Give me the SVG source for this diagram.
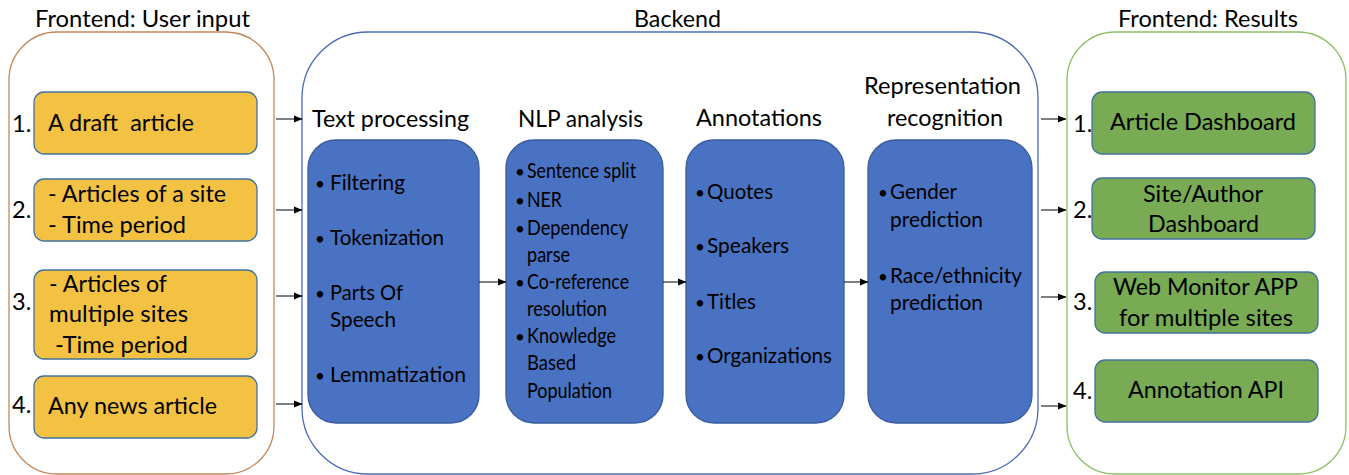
<svg xmlns="http://www.w3.org/2000/svg" width="1349" height="475" viewBox="0 0 1349 475">
<style>
text{font-family:Lato,"Liberation Sans",sans-serif;font-size:23.5px;fill:#000}
.it{font-size:21px}
.bl{font-size:17px}
.yel{fill:#F4C243;stroke:#41719C;stroke-width:1.3}
.grn{fill:#79AB54;stroke:#41719C;stroke-width:1.3}
.blu{fill:#4A72C2;stroke:#3A5C9E;stroke-width:1.3}
.cn{fill:none;stroke:#000;stroke-width:1;marker-end:url(#ah)}
</style>
<defs>
<marker id="ah" markerWidth="9" markerHeight="9" refX="8" refY="4.5" orient="auto" markerUnits="userSpaceOnUse">
<path d="M0,1 L8.5,4.5 L0,8 Z" fill="#000"/>
</marker>
</defs>
<rect width="1349" height="475" fill="#fff"/>

<g id="frontend-input">
<text x="35" y="27" textLength="215" lengthAdjust="spacingAndGlyphs">Frontend: User input</text>
<rect x="9" y="32" width="265" height="442" rx="48" ry="48" fill="none" stroke="#C4875A" stroke-width="1.3"/>
<g id="in1"><text x="12" y="132">1.</text><rect class="yel" x="34" y="92" width="223" height="62" rx="10"/><text x="48" y="131" xml:space="preserve" textLength="146" lengthAdjust="spacingAndGlyphs">A draft  article</text></g>
<g id="in2"><text x="12" y="218">2.</text><rect class="yel" x="34" y="179" width="223" height="62" rx="10"/><text x="48" y="202" textLength="178" lengthAdjust="spacingAndGlyphs">- Articles of a site</text><text x="48" y="233" textLength="138" lengthAdjust="spacingAndGlyphs">- Time period</text></g>
<g id="in3"><text x="12" y="310">3.</text><rect class="yel" x="34" y="270" width="223" height="89" rx="10"/><text x="49" y="292" textLength="118" lengthAdjust="spacingAndGlyphs">- Articles of</text><text x="49" y="322" textLength="139" lengthAdjust="spacingAndGlyphs">multiple sites</text><text x="55" y="353" textLength="133" lengthAdjust="spacingAndGlyphs">-Time period</text></g>
<g id="in4"><text x="12" y="413">4.</text><rect class="yel" x="34" y="376" width="223" height="62" rx="10"/><text x="48" y="414" textLength="169" lengthAdjust="spacingAndGlyphs">Any news article</text></g>
</g>

<g id="backend">
<text x="634" y="27" textLength="87" lengthAdjust="spacingAndGlyphs">Backend</text>
<rect x="302" y="32" width="736" height="442" rx="66" ry="66" fill="none" stroke="#4A6CB8" stroke-width="1.3"/>
</g>

<g id="text-processing">
<text x="312" y="127" textLength="157" lengthAdjust="spacingAndGlyphs">Text processing</text>
<rect class="blu" x="308" y="140" width="171" height="283" rx="28"/>
<text class="bl" x="315" y="190">•</text><text class="it" x="330" y="190" textLength="75" lengthAdjust="spacingAndGlyphs">Filtering</text>
<text class="bl" x="315" y="245">•</text><text class="it" x="330" y="245" textLength="114" lengthAdjust="spacingAndGlyphs">Tokenization</text>
<text class="bl" x="315" y="300">•</text><text class="it" x="330" y="300" textLength="73" lengthAdjust="spacingAndGlyphs">Parts Of</text><text class="it" x="330" y="327" textLength="66" lengthAdjust="spacingAndGlyphs">Speech</text>
<text class="bl" x="315" y="382">•</text><text class="it" x="330" y="382" textLength="136" lengthAdjust="spacingAndGlyphs">Lemmatization</text>
</g>

<g id="nlp-analysis">
<text x="518" y="127" textLength="125" lengthAdjust="spacingAndGlyphs">NLP analysis</text>
<rect class="blu" x="506" y="140" width="157" height="283" rx="28"/>
<text class="bl" x="515" y="178">•</text><text class="it" x="527" y="178" textLength="109" lengthAdjust="spacingAndGlyphs">Sentence split</text>
<text class="bl" x="515" y="207">•</text><text class="it" x="527" y="207" textLength="35" lengthAdjust="spacingAndGlyphs">NER</text>
<text class="bl" x="515" y="235">•</text><text class="it" x="527" y="235" textLength="101" lengthAdjust="spacingAndGlyphs">Dependency</text><text class="it" x="527" y="262" textLength="43" lengthAdjust="spacingAndGlyphs">parse</text>
<text class="bl" x="515" y="289">•</text><text class="it" x="527" y="289" textLength="102" lengthAdjust="spacingAndGlyphs">Co-reference</text><text class="it" x="527" y="316" textLength="80" lengthAdjust="spacingAndGlyphs">resolution</text>
<text class="bl" x="515" y="343">•</text><text class="it" x="527" y="343" textLength="89" lengthAdjust="spacingAndGlyphs">Knowledge</text><text class="it" x="527" y="370" textLength="49" lengthAdjust="spacingAndGlyphs">Based</text><text class="it" x="527" y="398" textLength="85" lengthAdjust="spacingAndGlyphs">Population</text>
</g>

<g id="annotations">
<text x="696" y="126" textLength="126" lengthAdjust="spacingAndGlyphs">Annotations</text>
<rect class="blu" x="686" y="140" width="158" height="283" rx="28"/>
<text class="bl" x="695" y="199">•</text><text class="it" x="707" y="199" textLength="66" lengthAdjust="spacingAndGlyphs">Quotes</text>
<text class="bl" x="695" y="253">•</text><text class="it" x="707" y="253" textLength="82" lengthAdjust="spacingAndGlyphs">Speakers</text>
<text class="bl" x="695" y="309">•</text><text class="it" x="707" y="309" textLength="49" lengthAdjust="spacingAndGlyphs">Titles</text>
<text class="bl" x="695" y="363">•</text><text class="it" x="707" y="363" textLength="125" lengthAdjust="spacingAndGlyphs">Organizations</text>
</g>

<g id="representation">
<text x="864" y="94" textLength="157" lengthAdjust="spacingAndGlyphs">Representation</text>
<text x="887" y="126" textLength="116" lengthAdjust="spacingAndGlyphs">recognition</text>
<rect class="blu" x="868" y="140" width="164" height="283" rx="28"/>
<text class="bl" x="878" y="199">•</text><text class="it" x="890" y="199" textLength="67" lengthAdjust="spacingAndGlyphs">Gender</text><text class="it" x="890" y="227" textLength="93" lengthAdjust="spacingAndGlyphs">prediction</text>
<text class="bl" x="878" y="283">•</text><text class="it" x="890" y="283" textLength="132" lengthAdjust="spacingAndGlyphs">Race/ethnicity</text><text class="it" x="890" y="310" textLength="93" lengthAdjust="spacingAndGlyphs">prediction</text>
</g>

<g id="frontend-results">
<text x="1118" y="27" textLength="180" lengthAdjust="spacingAndGlyphs">Frontend: Results</text>
<rect x="1067" y="32" width="279" height="442" rx="48" ry="48" fill="none" stroke="#8BC063" stroke-width="1.3"/>
<g id="out1"><text x="1073" y="132">1.</text><rect class="grn" x="1092" y="92" width="223" height="62" rx="10"/><text x="1110" y="130" textLength="186" lengthAdjust="spacingAndGlyphs">Article Dashboard</text></g>
<g id="out2"><text x="1073" y="218">2.</text><rect class="grn" x="1092" y="178" width="223" height="61" rx="10"/><text x="1143" y="202" textLength="120" lengthAdjust="spacingAndGlyphs">Site/Author</text><text x="1148" y="232" textLength="111" lengthAdjust="spacingAndGlyphs">Dashboard</text></g>
<g id="out3"><text x="1073" y="310">3.</text><rect class="grn" x="1095" y="272" width="223" height="61" rx="10"/><text x="1113" y="295" textLength="185" lengthAdjust="spacingAndGlyphs">Web Monitor APP</text><text x="1119" y="326" textLength="174" lengthAdjust="spacingAndGlyphs">for multiple sites</text></g>
<g id="out4"><text x="1073" y="399">4.</text><rect class="grn" x="1095" y="360" width="223" height="62" rx="10"/><text x="1128" y="398" textLength="156" lengthAdjust="spacingAndGlyphs">Annotation API</text></g>
</g>

<g id="connectors">
<line class="cn" x1="276" y1="119" x2="302" y2="119"/>
<line class="cn" x1="276" y1="210" x2="302" y2="210"/>
<line class="cn" x1="276" y1="296" x2="302" y2="296"/>
<line class="cn" x1="276" y1="404" x2="302" y2="404"/>
<line class="cn" x1="479" y1="282" x2="506" y2="282"/>
<line class="cn" x1="663" y1="282" x2="686" y2="282"/>
<line class="cn" x1="844" y1="282" x2="868" y2="282"/>
<line class="cn" x1="1041" y1="119" x2="1066" y2="119"/>
<line class="cn" x1="1041" y1="210" x2="1066" y2="210"/>
<line class="cn" x1="1041" y1="297" x2="1066" y2="297"/>
<line class="cn" x1="1041" y1="406" x2="1066" y2="406"/>
</g>
</svg>
